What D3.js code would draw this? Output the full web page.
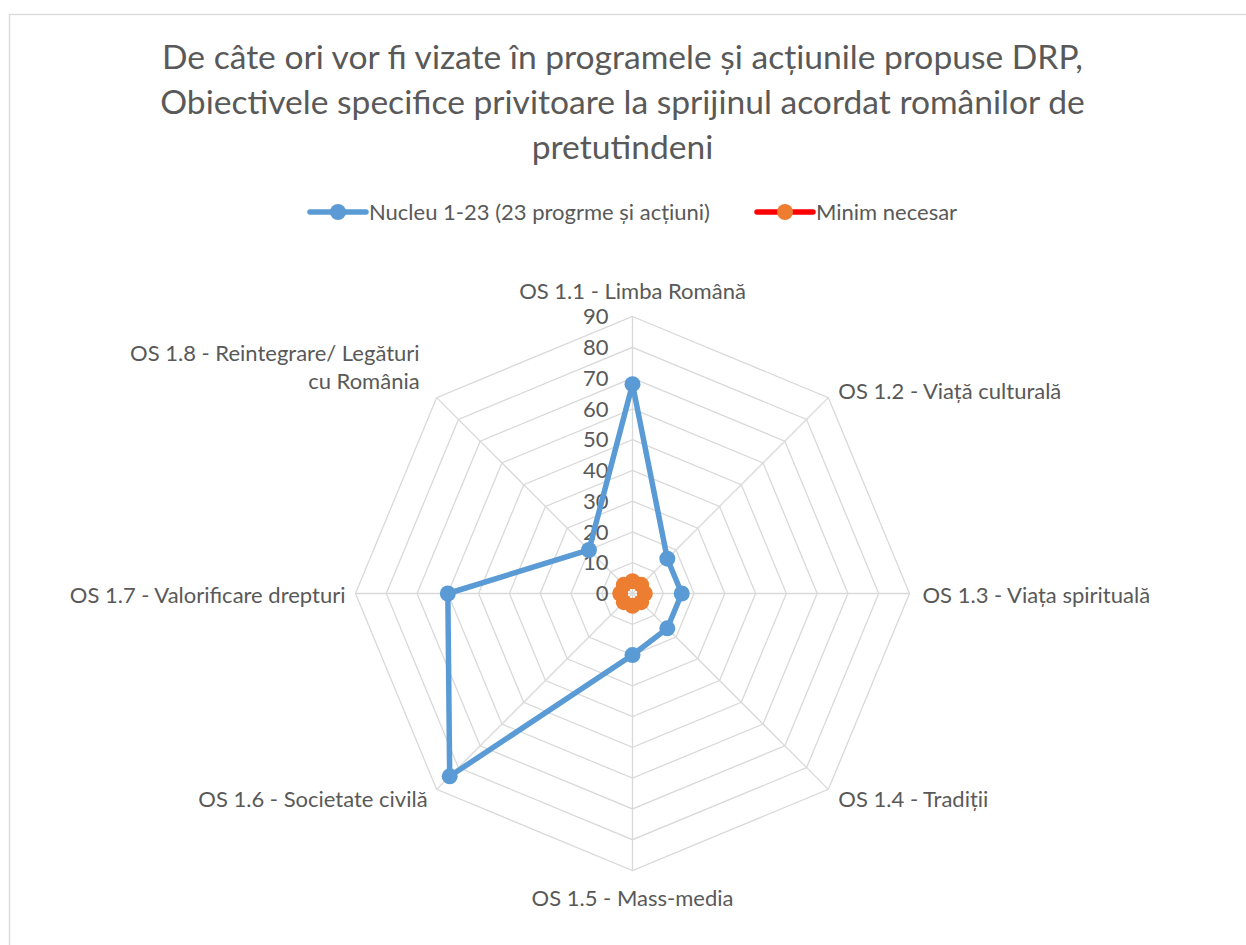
<!DOCTYPE html>
<html>
<head>
<meta charset="utf-8">
<script src="https://cdn.jsdelivr.net/npm/d3@7"></script>
<style>
  body { margin: 0; background: #fff; }
  text { font-family: Lato, "Open Sans", sans-serif; fill: #595959; }
</style>
</head>
<body>
<div id="container"></div>
<script>
// chart data
const categories = [
    "OS 1.1 - Limba Română",
    "OS 1.2 - Viață culturală",
    "OS 1.3 - Viața spirituală",
    "OS 1.4 - Tradiții",
    "OS 1.5 - Mass-media",
    "OS 1.6 - Societate civilă",
    "OS 1.7 - Valorificare drepturi",
    "OS 1.8 - Reintegrare/ Legături|cu România"
]
const nucleuValues = [68, 16, 16, 16, 20, 84, 60, 20]
const minimValues = [4, 4, 4, 4, 4, 4, 4, 4]
const seriesNames = ["Nucleu 1-23 (23 progrme și acțiuni)", "Minim necesar"]
const ticks = [0, 10, 20, 30, 40, 50, 60, 70, 80, 90]
const titleLines = [
    "De câte ori vor fi vizate în programele și acțiunile propuse DRP,",
    "Obiectivele specifice privitoare la sprijinul acordat românilor de",
    "pretutindeni"
]

const w = 1246
const h = 945
const cx = 632.5
const cy = 593.5
const outerR = 277

const svg = d3.select("#container")
    .append("svg")
    .attr("width", w)
    .attr("height", h)

// chart border
svg.append("rect")
    .attr("x", 9.5)
    .attr("y", 14.5)
    .attr("width", 1250)
    .attr("height", 950)
    .attr("fill", "none")
    .attr("stroke", "#d9d9d9")
    .attr("stroke-width", 1.3)

// title
svg.append("g")
    .selectAll("text")
    .data(titleLines)
    .enter()
    .append("text")
    .attr("x", 622.5)
    .attr("y", (d, i) => 69 + i * 45)
    .attr("text-anchor", "middle")
    .style("font-size", "33.6px")
    .text((d) => d)

// legend
const legendItems = [
    { name: seriesNames[0], x: 310, line: "#5b9bd5", dot: "#5b9bd5" },
    { name: seriesNames[1], x: 757, line: "#ff0000", dot: "#ed7d31" }
]
const legend = svg.append("g")
    .selectAll("g")
    .data(legendItems)
    .enter()
    .append("g")
    .attr("transform", (d) => `translate(${d.x}, 212)`)
legend.append("line")
    .attr("x1", 0)
    .attr("x2", 56)
    .attr("stroke", (d) => d.line)
    .attr("stroke-width", 5.5)
    .attr("stroke-linecap", "round")
legend.append("circle")
    .attr("cx", 28)
    .attr("r", 8)
    .attr("fill", (d) => d.dot)
legend.append("text")
    .attr("x", 59)
    .attr("dy", "0.35em")
    .style("font-size", "22px")
    .text((d) => d.name)

const rScale = d3.scaleLinear()
    .domain([0, 90])
    .range([0, outerR])
const angle = (i) => i * 2 * Math.PI / categories.length

const chart = svg.append("g")
    .attr("transform", `translate(${cx}, ${cy})`)

// grid rings
const ringLine = d3.lineRadial()
    .angle((d, i) => angle(i))
    .radius((d) => d)
    .curve(d3.curveLinearClosed)
chart.selectAll(".ring")
    .data(ticks.slice(1))
    .enter()
    .append("path")
    .classed("ring", true)
    .attr("d", (t) => ringLine(categories.map(() => rScale(t))))
    .attr("fill", "none")
    .attr("stroke", "#d9d9d9")
    .attr("stroke-width", 1.3)

// spokes
chart.selectAll(".spoke")
    .data(categories)
    .enter()
    .append("line")
    .classed("spoke", true)
    .attr("x2", (d, i) => rScale(90) * Math.sin(angle(i)))
    .attr("y2", (d, i) => -rScale(90) * Math.cos(angle(i)))
    .attr("stroke", "#d9d9d9")
    .attr("stroke-width", 1.3)

// tick labels
chart.selectAll(".tick-label")
    .data(ticks)
    .enter()
    .append("text")
    .classed("tick-label", true)
    .attr("x", -24)
    .attr("y", (t) => -rScale(t))
    .attr("dy", "0.35em")
    .attr("text-anchor", "end")
    .style("font-size", "22px")
    .text((t) => t)

// category labels, placed outside the outer ring
const labelPos = [
    { dx: 0, dy: -25, anchor: "middle" },
    { dx: 10, dy: -6, anchor: "start" },
    { dx: 13, dy: 2, anchor: "start" },
    { dx: 10, dy: 10, anchor: "start" },
    { dx: 0, dy: 28, anchor: "middle" },
    { dx: -9, dy: 10, anchor: "end" },
    { dx: -10, dy: 2, anchor: "end" },
    { dx: -17, dy: -44, anchor: "end" }
]
const catLabels = chart.selectAll(".cat-label")
    .data(categories)
    .enter()
    .append("text")
    .classed("cat-label", true)
    .attr("text-anchor", (d, i) => labelPos[i].anchor)
    .attr("transform", (d, i) => {
        const x = rScale(90) * Math.sin(angle(i)) + labelPos[i].dx
        const y = -rScale(90) * Math.cos(angle(i)) + labelPos[i].dy
        return `translate(${x}, ${y})`
    })
    .style("font-size", "22px")
catLabels.selectAll("tspan")
    .data((d) => d.split("|"))
    .enter()
    .append("tspan")
    .attr("x", 0)
    .attr("y", (d, i) => i * 28)
    .attr("dy", "0.35em")
    .text((d) => d)

// series
const seriesLine = d3.lineRadial()
    .angle((d, i) => angle(i))
    .radius((d) => rScale(d))
    .curve(d3.curveLinearClosed)

const series = [
    { values: nucleuValues, line: "#5b9bd5", dot: "#5b9bd5", width: 5.5 },
    { values: minimValues, line: "#ff0000", dot: "#ed7d31", width: 4 }
]
series.forEach((s) => {
    chart.append("path")
        .attr("d", seriesLine(s.values))
        .attr("fill", "none")
        .attr("stroke", s.line)
        .attr("stroke-width", s.width)
        .attr("stroke-linejoin", "round")
    chart.append("g")
        .selectAll("circle")
        .data(s.values)
        .enter()
        .append("circle")
        .attr("cx", (d, i) => rScale(d) * Math.sin(angle(i)))
        .attr("cy", (d, i) => -rScale(d) * Math.cos(angle(i)))
        .attr("r", 8)
        .attr("fill", s.dot)
})
</script>
</body>
</html>
